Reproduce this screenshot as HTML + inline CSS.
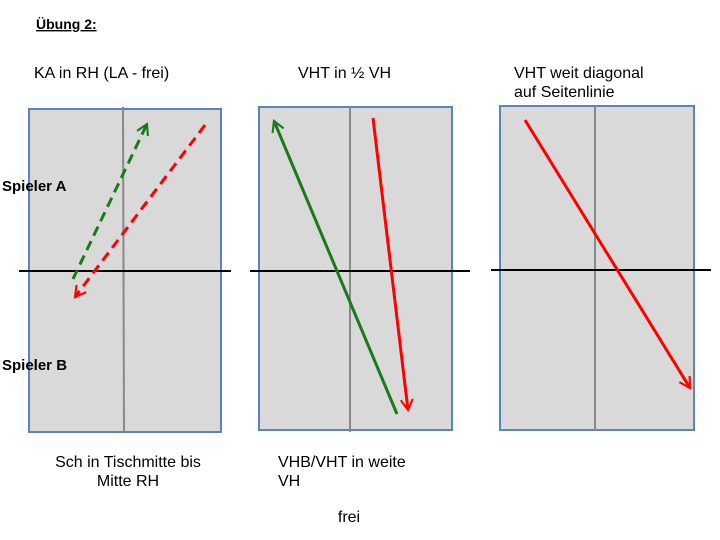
<!DOCTYPE html>
<html><head><meta charset="utf-8"><style>
body{margin:0;width:720px;height:540px;background:#fff;overflow:hidden;font-family:"Liberation Sans",sans-serif}
svg{position:absolute;left:0;top:0}
</style></head><body>
<svg width="720" height="540">
<defs>
<marker id="ag" viewBox="0 0 10 10" refX="8" refY="5" markerWidth="5" markerHeight="5" orient="auto-start-reverse" markerUnits="strokeWidth"><path d="M1,1 L8,5 L1,9" fill="none" stroke="#1a7a1a" stroke-width="1.4"/></marker>
<marker id="ar" viewBox="0 0 10 10" refX="8" refY="5" markerWidth="5" markerHeight="5" orient="auto-start-reverse" markerUnits="strokeWidth"><path d="M1,1 L8,5 L1,9" fill="none" stroke="#f00" stroke-width="1.4"/></marker>
</defs>
<text x="36" y="29" font-size="14" font-weight="bold" text-decoration="underline">Übung 2:</text>
<text x="34" y="78" font-size="16">KA in RH (LA - frei)</text>
<text x="298" y="78" font-size="16">VHT in ½ VH</text>
<text x="514" y="78" font-size="16">VHT weit diagonal</text>
<text x="514" y="97" font-size="16">auf Seitenlinie</text>

<g>
<rect x="29" y="109" width="192" height="323" fill="#d9d9d9" stroke="#5b84bf" stroke-width="2"/>
<line x1="123" y1="107" x2="124" y2="433" stroke="#888" stroke-width="2"/>
<line x1="19" y1="271" x2="231" y2="271" stroke="#000" stroke-width="2"/>
<line x1="73" y1="279" x2="147" y2="124" stroke="#1a7a1a" stroke-width="3" stroke-dasharray="10,6" marker-end="url(#ag)"/>
<line x1="205" y1="125" x2="75" y2="297" stroke="#f00" stroke-width="3" stroke-dasharray="10,6" marker-end="url(#ar)"/>
</g>
<g>
<rect x="259" y="107" width="193" height="323" fill="#d9d9d9" stroke="#5b84bf" stroke-width="2"/>
<line x1="350" y1="107" x2="350" y2="432" stroke="#888" stroke-width="2"/>
<line x1="250" y1="271" x2="470" y2="271" stroke="#000" stroke-width="2"/>
<line x1="397" y1="414" x2="274" y2="121" stroke="#1a7a1a" stroke-width="3" marker-end="url(#ag)"/>
<line x1="373" y1="118" x2="408" y2="410" stroke="#f00" stroke-width="3" marker-end="url(#ar)"/>
</g>
<g>
<rect x="500" y="106" width="194" height="324" fill="#d9d9d9" stroke="#5b84bf" stroke-width="2"/>
<line x1="595" y1="106" x2="595" y2="431" stroke="#888" stroke-width="2"/>
<line x1="491" y1="270" x2="711" y2="270" stroke="#000" stroke-width="2"/>
<line x1="525" y1="120" x2="690" y2="388" stroke="#f00" stroke-width="3" marker-end="url(#ar)"/>
</g>
<text x="2" y="191" font-size="15" font-weight="bold">Spieler A</text>
<text x="2" y="370" font-size="15" font-weight="bold">Spieler B</text>
<text x="128" y="467" font-size="16" text-anchor="middle">Sch in Tischmitte bis</text>
<text x="128" y="486" font-size="16" text-anchor="middle">Mitte RH</text>
<text x="278" y="467" font-size="16">VHB/VHT in weite</text>
<text x="278" y="486" font-size="16">VH</text>
<text x="349" y="522" font-size="16" text-anchor="middle">frei</text>
</svg>
</body></html>
